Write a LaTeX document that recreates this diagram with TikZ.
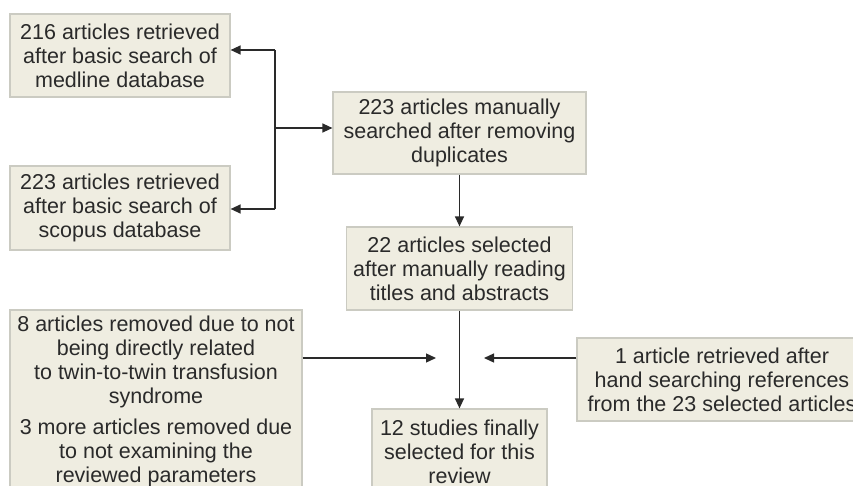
\documentclass[tikz,border=0pt]{standalone}
\usepackage{fontspec}
\setmainfont{Liberation Sans}
\usetikzlibrary{arrows.meta}
\definecolor{boxfill}{HTML}{EFEDE1}
\definecolor{boxline}{HTML}{CBCBC2}
\definecolor{ink}{HTML}{2A2A2A}
\begin{document}
\begin{tikzpicture}[x=1pt,y=-1pt,
  flowbox/.style={draw=boxline,line width=1.2pt,fill=boxfill,text=ink,align=center,
    inner sep=0pt,font=\fontsize{21.5}{24}\selectfont},
  arr/.style={draw=ink,line width=1.3pt,-{Triangle[length=10pt,width=9pt]}},
  ln/.style={draw=ink,line width=1.3pt}]
\useasboundingbox[fill=white] (0,0) rectangle (853,486);
\node[flowbox,minimum width=220pt,minimum height=83pt] (A) at (120,55.5)
  {216 articles retrieved\\after basic search of\\medline database};
\node[flowbox,minimum width=220pt,minimum height=84pt] (B) at (120,208)
  {223 articles retrieved\\after basic search of\\scopus database};
\node[flowbox,minimum width=253pt,minimum height=82pt] (C) at (459.5,133)
  {223 articles manually\\searched after removing\\duplicates};
\node[flowbox,minimum width=226pt,minimum height=83pt] (D) at (459.5,268.5)
  {22 articles selected\\after manually reading\\titles and abstracts};
\node[flowbox,minimum width=175pt,minimum height=86pt] (E) at (459.5,452)
  {12 studies finally\\selected for this\\review};
\node[flowbox,minimum width=292pt,minimum height=183pt] (F) at (156,401.5)
  {8 articles removed due to not\\being directly related\\to twin-to-twin transfusion\\syndrome\\[7pt]3 more articles removed due\\to not examining the\\reviewed parameters};
\node[flowbox,minimum width=290pt,minimum height=83pt] (G) at (722,379.5)
  {1 article retrieved after\\hand searching references\\from the 23 selected articles};
% junction
\coordinate (J) at (275,128);
\coordinate (Ja) at (275,50);
\coordinate (Jb) at (275,209);
\draw[ln] (Ja) -- (Jb);
\draw[arr] (Ja) -- (A.east |- Ja);
\draw[arr] (Jb) -- (B.east |- Jb);
\draw[arr] (J) -- (C.west |- J);
\draw[arr] (C.south) -- (D.north);
\draw[arr] (D.south) -- (E.north);
\coordinate (fl) at (436,358);
\coordinate (gr) at (484,358);
\draw[arr] (F.east |- fl) -- (fl);
\draw[arr] (G.west |- gr) -- (gr);
\end{tikzpicture}
\end{document}
